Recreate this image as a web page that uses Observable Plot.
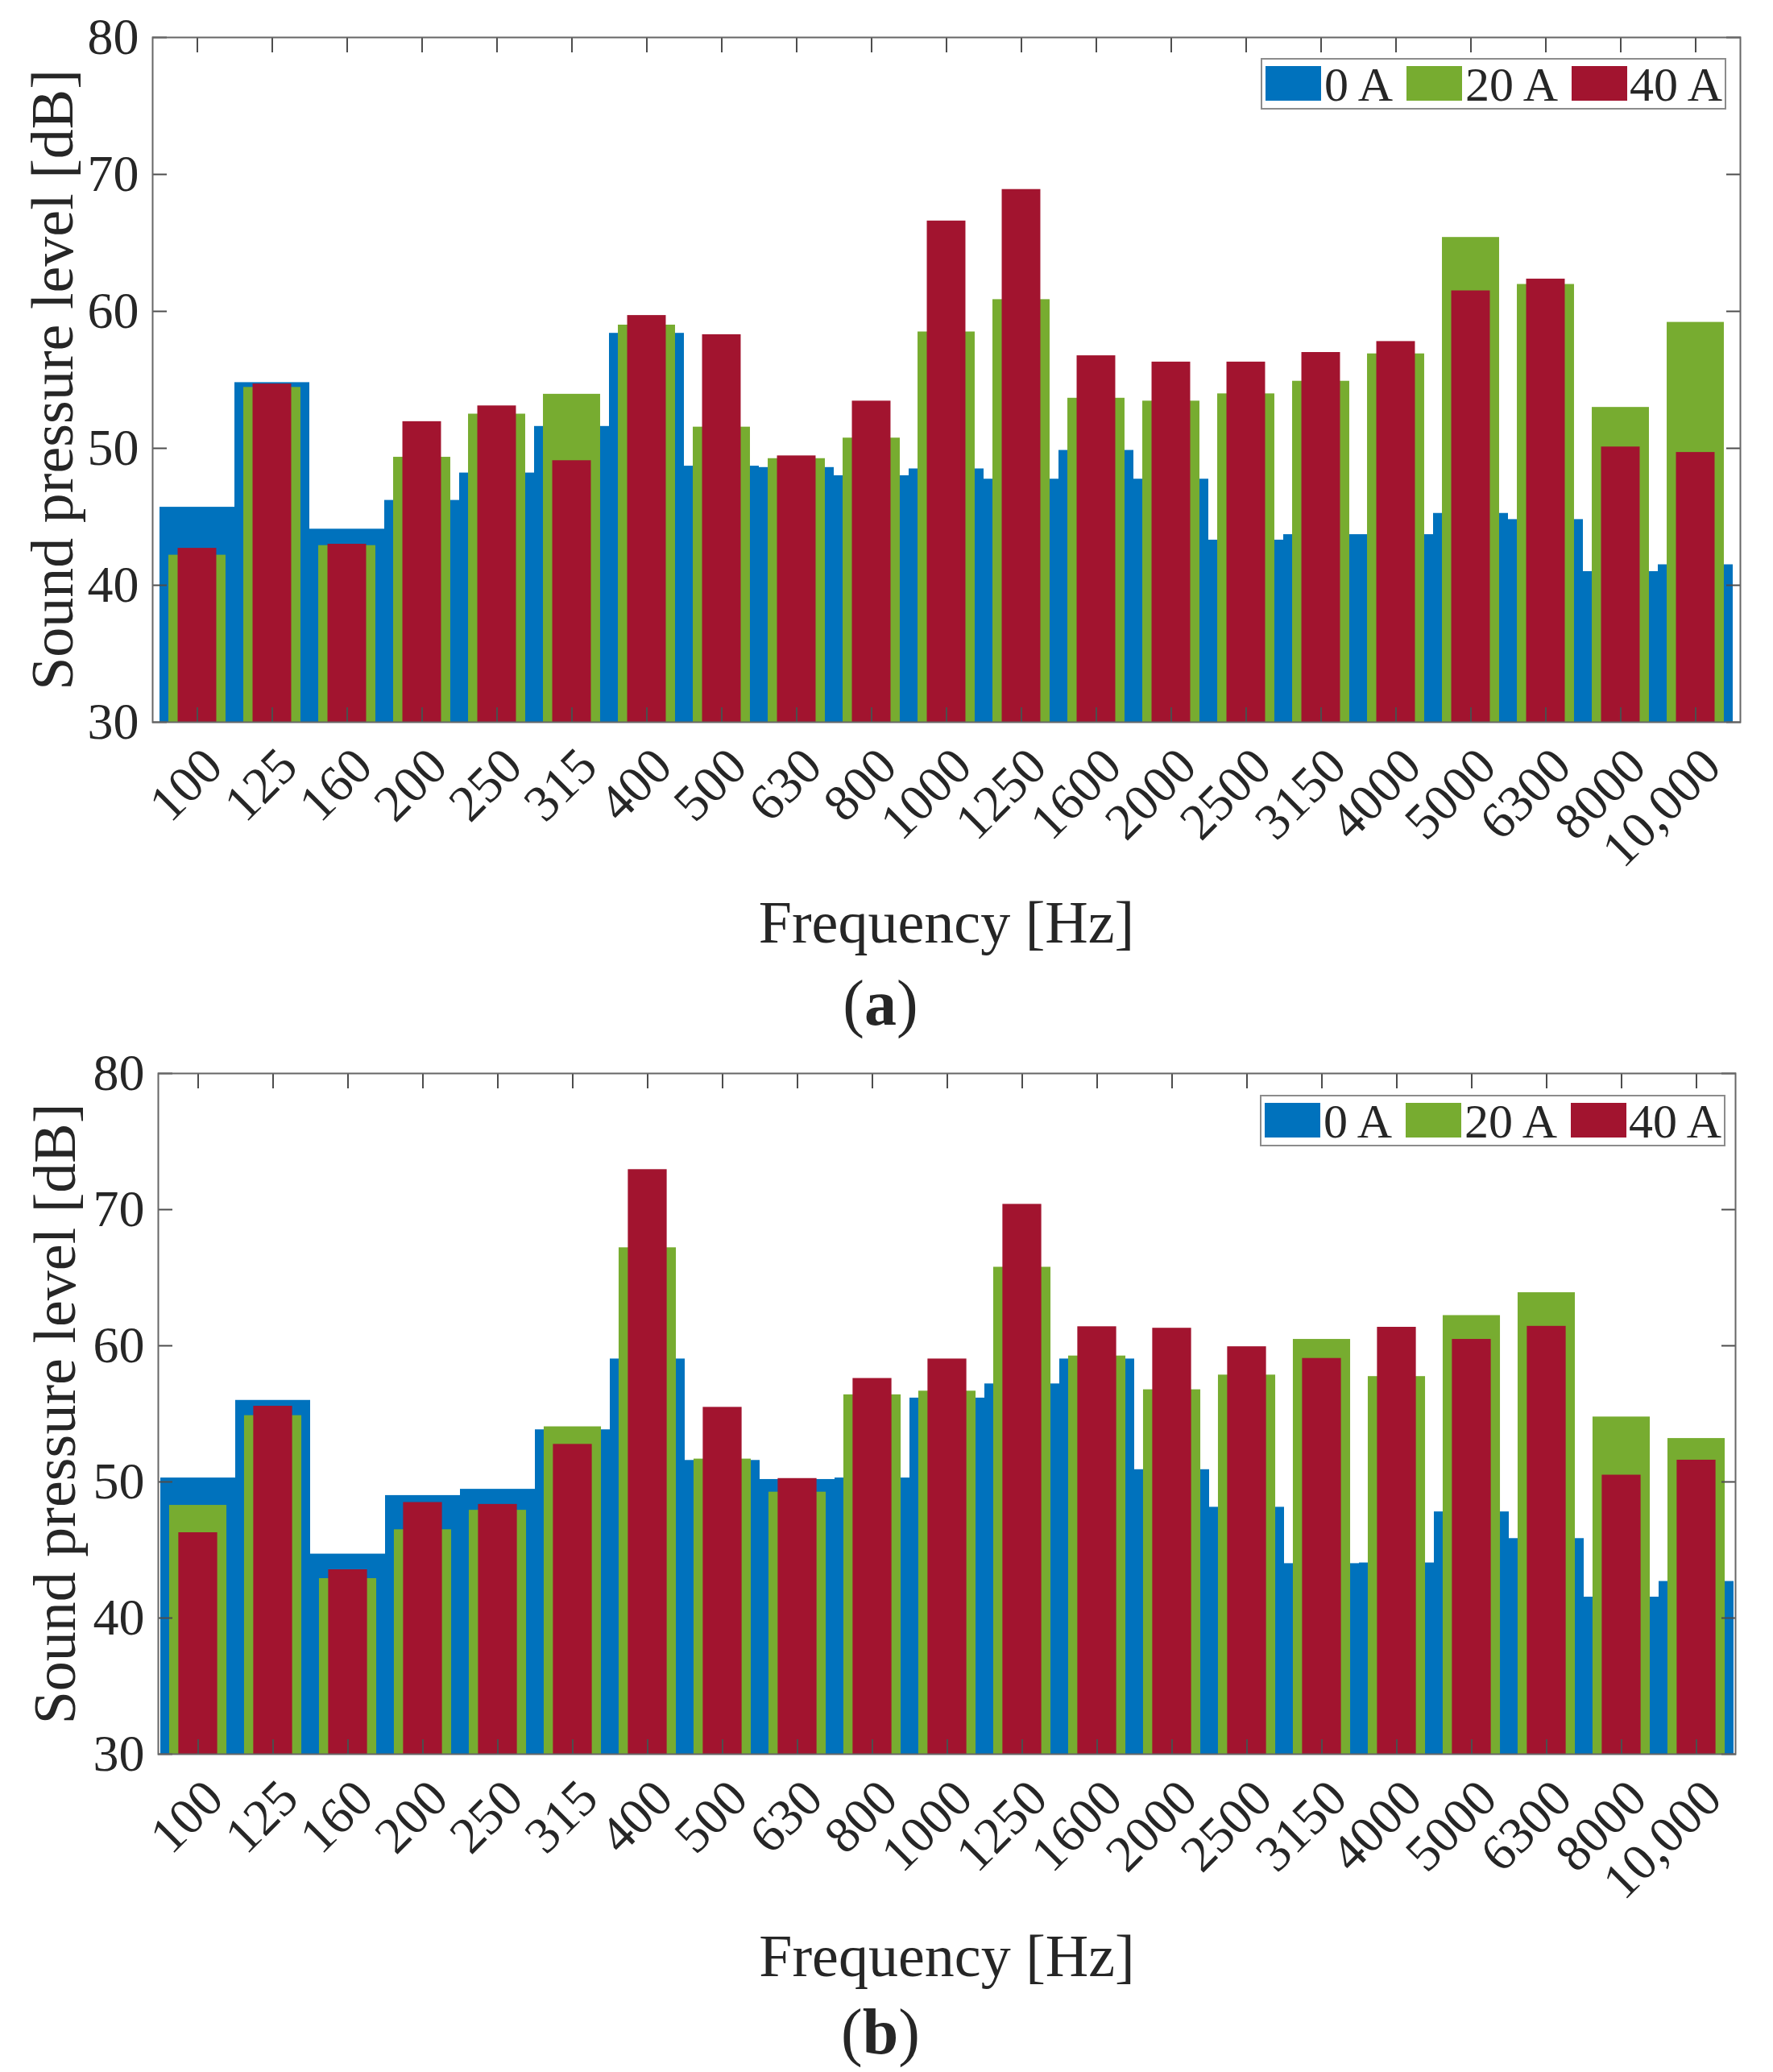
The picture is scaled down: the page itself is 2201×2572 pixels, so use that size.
<!DOCTYPE html>
<html><head><meta charset="utf-8">
<script src="https://cdn.jsdelivr.net/npm/d3@7"></script>
<script src="https://cdn.jsdelivr.net/npm/@observablehq/plot@0.6"></script>
<style>
body{margin:0;background:#fff;}
#fig{position:relative;width:2201px;height:2572px;font-family:"Liberation Serif","Times New Roman",serif;color:#262626;background:#fff;overflow:hidden;}
.panel{position:absolute;left:0;}
.cap{position:absolute;font-size:80px;line-height:1;white-space:nowrap;transform:translateX(-50%);}
.legend{position:absolute;border:2px solid #8c8c8c;background:#fff;box-sizing:border-box;}
.sw{position:absolute;}
.lt{position:absolute;font-size:60px;line-height:1;white-space:nowrap;}
</style></head><body><div id="fig"></div>
<script>
// ---- data ----
const frequencies = ["100","125","160","200","250","315","400","500","630","800","1000","1250","1600","2000","2500","3150","4000","5000","6300","8000","10,000"];
const yTicks = [30, 40, 50, 60, 70, 80];
const seriesNames = ["0 A", "20 A", "40 A"];
const seriesColors = ["#0072BD", "#77AC30", "#A2142F"];
const barWidths = [1, 0.765, 0.52];

// panel (a)
const blueA  = [45.7, 54.8, 44.1, 46.2, 48.2, 51.6, 58.4, 48.7, 48.6, 48.0, 48.5, 47.75, 49.85, 47.75, 43.3, 43.7, 43.7, 45.25, 44.8, 41.0, 41.5];
const greenA = [42.2, 54.45, 42.9, 49.35, 52.5, 53.95, 59.0, 51.55, 49.25, 50.75, 58.5, 60.86, 53.66, 53.45, 53.98, 54.9, 56.9, 65.4, 61.97, 52.99, 59.2];
const redA   = [42.7, 54.7, 43.0, 51.95, 53.1, 49.1, 59.7, 58.3, 49.45, 53.45, 66.6, 68.9, 56.76, 56.3, 56.3, 57.0, 57.8, 61.5, 62.36, 50.1, 49.7];

// panel (b)
const blueB  = [50.29, 55.99, 44.7, 49.0, 49.46, 53.83, 59.03, 51.58, 50.18, 50.29, 56.16, 57.2, 59.03, 50.9, 48.14, 44.0, 44.05, 47.8, 45.84, 41.54, 42.69];
const greenB = [48.28, 54.87, 42.9, 46.49, 47.92, 54.05, 67.2, 51.68, 49.25, 56.4, 56.67, 65.77, 59.25, 56.77, 57.85, 60.47, 57.74, 62.22, 63.9, 54.77, 53.19];
const redB   = [46.27, 55.56, 43.55, 48.49, 48.35, 52.76, 72.94, 55.48, 50.25, 57.6, 59.03, 70.39, 61.4, 61.29, 59.93, 59.07, 61.36, 60.47, 61.43, 50.5, 51.6];

const xLabel = "Frequency [Hz]";
const yLabel = "Sound pressure level [dB]";

const fig = document.getElementById("fig");
const W = 2201;
const FONT = "Liberation Serif, Times New Roman, serif";

function panel(cfg) {
  const {series, top, height, ml, mr, mt, mb, ylabelDx, xlabelDy} = cfg;
  const bw = (W - ml - mr) / frequencies.length;
  const rows = frequencies.map((f, i) => ({f, v0: series[0][i], v1: series[1][i], v2: series[2][i]}));
  const inset = w => bw * (1 - w) / 2;
  const tickStroke = "#4d4d4d";
  const plot = Plot.plot({
    width: W, height,
    marginLeft: ml, marginRight: mr, marginTop: mt, marginBottom: mb,
    style: {fontFamily: FONT, color: "#262626", background: "white", overflow: "visible"},
    x: {type: "band", domain: frequencies, padding: 0},
    y: {domain: [yTicks[0], yTicks[yTicks.length - 1]]},
    marks: [
      ...["v0", "v1", "v2"].map((k, j) => Plot.barY(rows, {
        x: "f", y1: yTicks[0], y2: k, fill: seriesColors[j],
        insetLeft: inset(barWidths[j]), insetRight: inset(barWidths[j])
      })),
      // inward ticks on all four sides
      Plot.axisX({anchor: "top", tickSize: 18, dy: 18, tickFormat: () => "", label: null, stroke: tickStroke, strokeWidth: 2}),
      Plot.axisX({anchor: "bottom", tickSize: 18, dy: -18, tickFormat: () => "", label: null, stroke: tickStroke, strokeWidth: 2}),
      Plot.axisY({anchor: "left", ticks: yTicks, tickSize: 18, dx: 18, tickFormat: () => "", label: null, stroke: tickStroke, strokeWidth: 2}),
      Plot.axisY({anchor: "right", ticks: yTicks, tickSize: 18, dx: -18, tickFormat: () => "", label: null, stroke: tickStroke, strokeWidth: 2}),
      // tick labels
      Plot.axisX({anchor: "bottom", tickSize: 0, tickRotate: -45, tickPadding: 44, dx: 20, fontSize: 64, label: null, fill: "#262626"}),
      Plot.axisY({anchor: "left", ticks: yTicks, tickSize: 0, tickPadding: 17, fontSize: 64, label: null, fill: "#262626"}),
      Plot.frame({stroke: "#666", strokeWidth: 2}),
      Plot.text([xLabel], {text: d => d, frameAnchor: "bottom", dy: xlabelDy, lineAnchor: "bottom", textAnchor: "middle", fontSize: 74, fill: "#262626"}),
      Plot.text([yLabel], {text: d => d, frameAnchor: "left", dx: ylabelDx, rotate: -90, textAnchor: "middle", lineAnchor: "middle", fontSize: 74, fill: "#262626"})
    ]
  });
  plot.classList.add("panel");
  plot.style.top = top + "px";
  fig.appendChild(plot);
}

function legend(ox, oy) {
  const box = document.createElement("div");
  box.className = "legend";
  Object.assign(box.style, {left: (1565 + ox) + "px", top: (72 + oy) + "px", width: "578px", height: "64px"});
  fig.appendChild(box);
  const swX = [1571, 1746, 1951];
  const txX = [1644, 1819, 2023];
  seriesNames.forEach((name, j) => {
    const sw = document.createElement("div");
    sw.className = "sw";
    Object.assign(sw.style, {left: (swX[j] + ox) + "px", top: (82 + oy) + "px", width: "69px", height: "43px", background: seriesColors[j]});
    fig.appendChild(sw);
    const t = document.createElement("div");
    t.className = "lt";
    t.textContent = name;
    Object.assign(t.style, {left: (txX[j] + ox) + "px", top: (75 + oy) + "px"});
    fig.appendChild(t);
  });
}

function caption(letter, x, baseline) {
  const c = document.createElement("div");
  c.className = "cap";
  c.innerHTML = "(<b>" + letter + "</b>)";
  Object.assign(c.style, {left: x + "px", top: (baseline - 67) + "px"});
  fig.appendChild(c);
}

panel({series: [blueA, greenA, redA], top: 0, height: 1300, ml: 189, mr: 41, mt: 46, mb: 404, ylabelDx: -123, xlabelDy: 273});
panel({series: [blueB, greenB, redB], top: 1300, height: 1272, ml: 196, mr: 47, mt: 32, mb: 395, ylabelDx: -127, xlabelDy: 275});
legend(0, 0);
legend(-1, 1287);
caption("a", 1093, 1272);
caption("b", 1093, 2549);
</script></body></html>
